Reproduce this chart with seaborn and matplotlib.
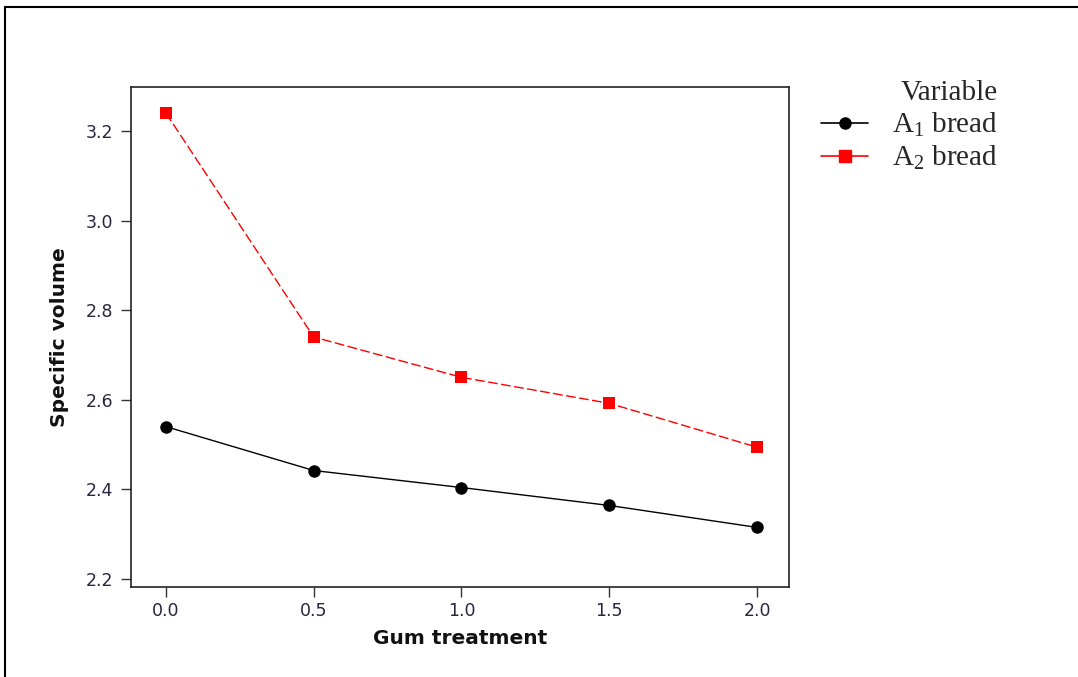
import numpy as np
import pandas as pd
import seaborn as sns
import matplotlib
matplotlib.use("Agg")
import matplotlib.pyplot as plt
from matplotlib.lines import Line2D

gum = [0.0, 0.5, 1.0, 1.5, 2.0]
a1_bread = [2.54, 2.442, 2.404, 2.364, 2.315]
a2_bread = [3.24, 2.74, 2.65, 2.592, 2.494]
series_names = ["A$_1$ bread", "A$_2$ bread"]
x_ticks = [0.0, 0.5, 1.0, 1.5, 2.0]
y_ticks = [2.2, 2.4, 2.6, 2.8, 3.0, 3.2]

df = pd.DataFrame({
    "Gum treatment": gum * 2,
    "Specific volume": a1_bread + a2_bread,
    "Variable": [series_names[0]] * len(gum) + [series_names[1]] * len(gum),
})

sns.set_theme(style="white")
plt.rcParams["font.family"] = ["DejaVu Sans"]
plt.rcParams["mathtext.fontset"] = "custom"
plt.rcParams["mathtext.rm"] = "Liberation Serif"
plt.rcParams["mathtext.it"] = "Liberation Serif:italic"

fig = plt.figure(figsize=(10.78, 6.77), dpi=100)
fig.patch.set_facecolor("white")
W, H = 1078, 677
ax = fig.add_axes([131 / W, 1 - 587 / H, (789 - 131) / W, (587 - 87) / H])

palette = {series_names[0]: "black", series_names[1]: "#ff0000"}
sns.lineplot(data=df, x="Gum treatment", y="Specific volume", hue="Variable",
             style="Variable", markers={series_names[0]: "o", series_names[1]: "s"},
             dashes={series_names[0]: "", series_names[1]: (7, 2.5)},
             palette=palette, markersize=9, linewidth=1.0, markeredgewidth=0,
             ax=ax, legend=False)

ax.set_xlim(-0.118, 2.108)
ax.set_ylim(2.182, 3.298)
ax.set_xticks(x_ticks)
ax.set_xticklabels([f"{v:.1f}" for v in x_ticks])
ax.set_yticks(y_ticks)
ax.set_yticklabels([f"{v:.1f}" for v in y_ticks])
ax.tick_params(axis="both", which="both", direction="out", length=7, width=1,
               color="#333333", labelsize=12.5, labelcolor="#2a2440",
               bottom=True, left=True)
ax.tick_params(axis="y", pad=6)
ax.set_xlabel("Gum treatment", fontsize=14.5, fontweight="bold", labelpad=7, color="#111111")
ax.set_ylabel("Specific volume", fontsize=14.5, fontweight="bold", labelpad=12, color="#111111")
for s in ax.spines.values():
    s.set_visible(True)
    s.set_color("#222222")
    s.set_linewidth(1.2)

handles = [
    Line2D([], [], color="black", marker="o", markersize=8, linewidth=1.2),
    Line2D([], [], color="#ff0000", marker="s", markersize=8, linewidth=1.2),
]
leg = fig.legend(handles, series_names, title="Variable", loc="upper left",
                 bbox_to_anchor=(801 / W, 1 - 60 / H), frameon=False,
                 prop={"family": "Liberation Serif", "size": 21},
                 title_fontproperties={"family": "Liberation Serif", "size": 21},
                 handlelength=1.6, handletextpad=0.82, labelspacing=0.16,
                 borderpad=0.2)
leg._legend_box.align = "right"

# outer frame lines (left and top)
fig.add_artist(Line2D([5 / W, 5 / W], [0, 1 - 7 / H], color="black", linewidth=1.5,
                      transform=fig.transFigure))
fig.add_artist(Line2D([5 / W, 1], [1 - 7 / H, 1 - 7 / H], color="black", linewidth=1.5,
                      transform=fig.transFigure))

fig.savefig("out.png", dpi=100)
